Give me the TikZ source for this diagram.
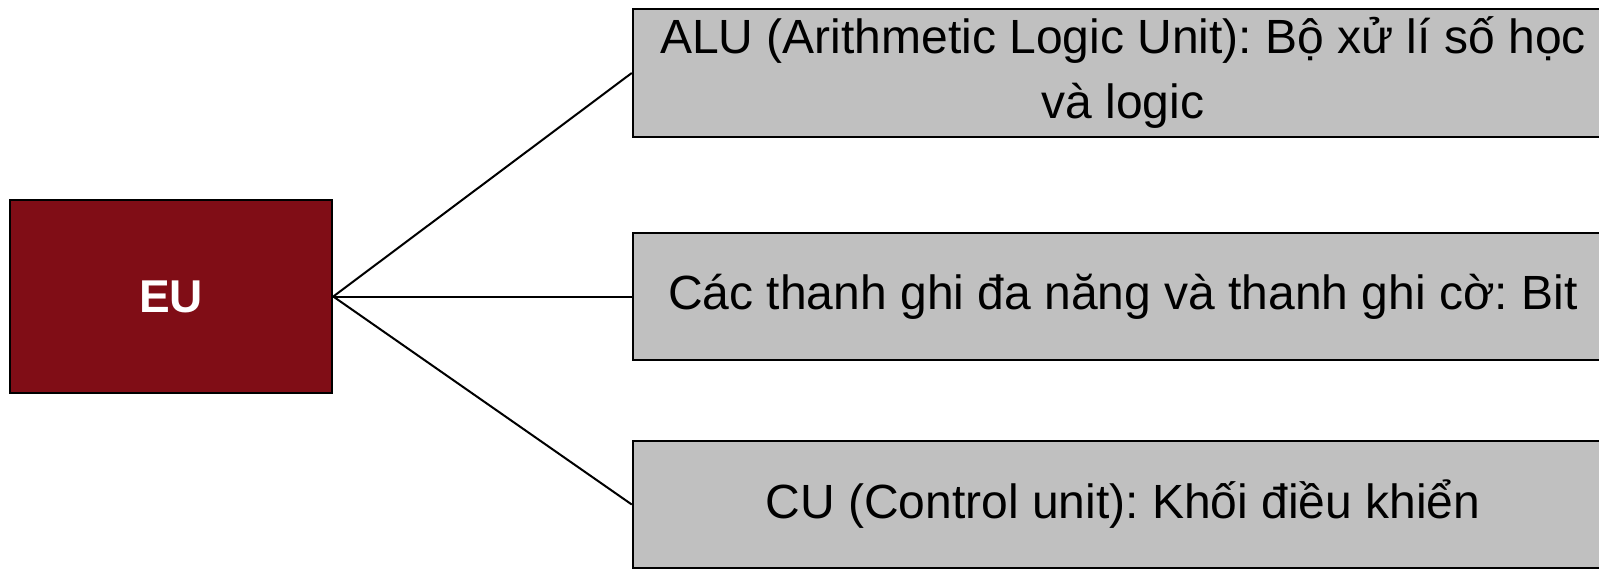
\documentclass[tikz,border=0pt]{standalone}
\usepackage{fontspec}
\setmainfont{Liberation Sans}
\frenchspacing
\definecolor{eured}{HTML}{800D16}
\definecolor{boxgray}{HTML}{C0C0C0}
\begin{document}
\begin{tikzpicture}[x=1pt,y=-1pt,
  eubox/.style={draw=black, line width=2.5pt, fill=eured, text=white,
    minimum width=322pt, minimum height=193pt, inner sep=0pt,
    font=\fontsize{46}{55}\selectfont\bfseries},
  itembox/.style={draw=black, line width=2.5pt, fill=boxgray, text=black,
    minimum width=980pt, minimum height=127pt, inner sep=0pt, align=center,
    font=\fontsize{48}{65}\selectfont},
  link/.style={draw=black, line width=2pt}]
\useasboundingbox (0,0) rectangle (1599,570);
\fill[white] (0,0) rectangle (1599,570);

\node[eubox] (eu) at (171,296.5) {EU};
\node[itembox, minimum height=128pt] (alu) at (1123,73)
  {ALU (Arithmetic Logic Unit): Bộ xử lí số học\\và logic};
\node[itembox] (reg) at (1123,296.5)
  {Các thanh ghi đa năng và thanh ghi cờ: Bit};
\node[itembox] (cu) at (1123,504.5)
  {CU (Control unit): Khối điều khiển};

\draw[link] (eu.east) -- (alu.west);
\draw[link] (eu.east) -- (reg.west);
\draw[link] (eu.east) -- (cu.west);
\end{tikzpicture}
\end{document}
